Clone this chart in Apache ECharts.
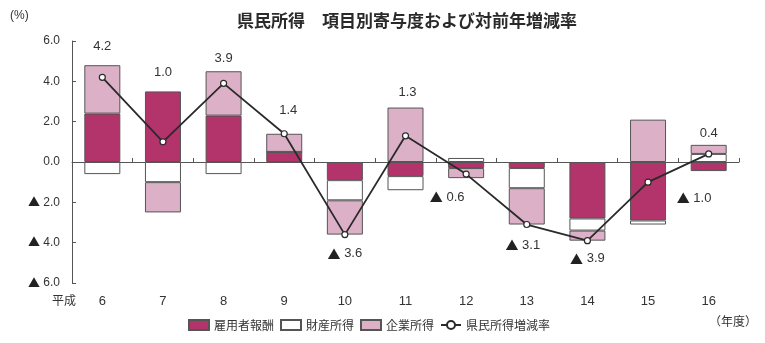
<!DOCTYPE html>
<html>
<head>
<meta charset="utf-8">
<script src="https://cdn.jsdelivr.net/npm/echarts@6/dist/echarts.min.js"></script>
<style>
  html, body { margin: 0; padding: 0; background: #fff; }
  #chart { width: 765px; height: 343px; }
</style>
</head>
<body>
<div id="chart"></div>
<script>
// 年度（平成）
const years = ['6', '7', '8', '9', '10', '11', '12', '13', '14', '15', '16'];
// 項目別寄与度（%）
const employeeComp = [2.4, 3.5, 2.3, 0.5, -0.9, -0.7, -0.3, -0.3, -2.8, -2.9, -0.45];
const propertyIncome = [-0.6, -1.0, -0.6, 0.0, -1.0, -0.7, 0.2, -1.0, -0.6, -0.2, 0.4];
const corporateIncome = [2.4, -1.5, 2.2, 0.9, -1.7, 2.7, -0.5, -1.8, -0.5, 2.1, 0.45];
// 県民所得 対前年増減率（%）
const growthRate = [4.2, 1.0, 3.9, 1.4, -3.6, 1.3, -0.6, -3.1, -3.9, -1.0, 0.4];
// 縦軸の目盛
const yTicks = [-6, -4, -2, 0, 2, 4, 6];

// 増減率ラベルの表示位置（点からのずれ, px）
const labelShift = [
  [0, -31], [0, -69], [0, -25], [4, -23], [0, 19], [2, -43],
  [-19, 23], [-4, 21], [0, 18], [46, 16], [0, -21]
];

// マイナスは「▲」を付けて表示
const fmt = v => (v < 0 ? '{tri|▲} ' + Math.abs(v).toFixed(1) : v.toFixed(1));

const COL_EMP = '#b3336b';
const COL_CORP = '#dcb1c7';
const COL_EDGE = '#555555';
const TXT = '#333333';
const FONT = '"Noto Sans CJK JP", "Noto Sans", sans-serif';
const FONT_NUM = '"Liberation Sans", "Noto Sans CJK JP", sans-serif';
const richTri = { tri: { fontFamily: '"Noto Sans CJK JP", sans-serif', fontSize: 12, color: '#222' } };

const chart = echarts.init(document.getElementById('chart'), null, { renderer: 'canvas' });

const barBase = {
  type: 'bar',
  stack: 'contrib',
  barWidth: 36,
  xAxisIndex: 0,
  emphasis: { disabled: true }
};

chart.setOption({
  animation: false,
  backgroundColor: '#ffffff',
  textStyle: { fontFamily: FONT, color: TXT },
  title: {
    text: '県民所得　項目別寄与度および対前年増減率',
    left: 232,
    top: 7,
    textStyle: { fontSize: 17, fontWeight: 'bold', color: '#2a2a2a', fontFamily: FONT }
  },
  grid: { left: 72, right: 26, top: 41, bottom: 60 },
  legend: {
    bottom: 7,
    left: 183,
    itemWidth: 20,
    itemHeight: 10,
    itemGap: 6,
    textStyle: { fontSize: 12, color: TXT, fontFamily: FONT },
    data: [
      { name: '雇用者報酬', icon: 'rect' },
      { name: '財産所得', icon: 'rect' },
      { name: '企業所得', icon: 'rect' },
      { name: '県民所得増減率' }
    ]
  },
  graphic: [
    { type: 'text', left: 10, top: 10, style: { text: '(%)', fontSize: 12, fill: TXT, fontFamily: FONT_NUM } },
    { type: 'text', left: 52, top: 294, style: { text: '平成', fontSize: 12, fill: TXT, fontFamily: FONT } },
    { type: 'text', right: 8, top: 315, style: { text: '（年度）', fontSize: 12, fill: TXT, fontFamily: FONT } }
  ],
  xAxis: [
    {
      type: 'category',
      data: years,
      axisLine: { onZero: true, lineStyle: { color: '#555', width: 1 } },
      axisTick: { show: true, inside: true, length: 4, lineStyle: { color: '#555' } },
      axisLabel: { show: false },
      splitLine: { show: false }
    },
    {
      type: 'category',
      data: years,
      position: 'bottom',
      axisLine: { show: false, onZero: false },
      axisTick: { show: false },
      axisLabel: { show: true, fontSize: 13, color: TXT, margin: 12, fontFamily: FONT_NUM },
      splitLine: { show: false }
    }
  ],
  yAxis: {
    type: 'value',
    min: yTicks[0],
    max: yTicks[yTicks.length - 1],
    interval: 2,
    axisLine: { show: true, lineStyle: { color: '#555' } },
    axisTick: { show: true, inside: true, length: 4, lineStyle: { color: '#555' } },
    axisLabel: { formatter: fmt, fontSize: 12, color: TXT, margin: 12, fontFamily: FONT_NUM, rich: richTri },
    splitLine: { show: false }
  },
  series: [
    Object.assign({}, barBase, {
      name: '雇用者報酬',
      data: employeeComp,
      itemStyle: { color: COL_EMP, borderColor: COL_EDGE, borderWidth: 1 }
    }),
    Object.assign({}, barBase, {
      name: '財産所得',
      data: propertyIncome,
      itemStyle: { color: '#ffffff', borderColor: COL_EDGE, borderWidth: 1 }
    }),
    Object.assign({}, barBase, {
      name: '企業所得',
      data: corporateIncome,
      itemStyle: { color: COL_CORP, borderColor: COL_EDGE, borderWidth: 1 }
    }),
    {
      name: '県民所得増減率',
      type: 'line',
      xAxisIndex: 0,
      z: 5,
      data: growthRate.map((v, i) => ({
        value: v,
        label: { offset: labelShift[i] }
      })),
      symbol: 'circle',
      symbolSize: 6,
      lineStyle: { color: '#2a2a2a', width: 1.8 },
      itemStyle: { color: '#ffffff', borderColor: '#2a2a2a', borderWidth: 1.2 },
      emphasis: { disabled: true },
      label: {
        show: true,
        position: 'inside',
        formatter: p => fmt(p.value),
        fontSize: 13,
        color: TXT,
        fontFamily: FONT_NUM,
        rich: { tri: { fontFamily: '"Noto Sans CJK JP", sans-serif', fontSize: 13, color: '#222' } }
      }
    }
  ]
});
</script>
</body>
</html>
